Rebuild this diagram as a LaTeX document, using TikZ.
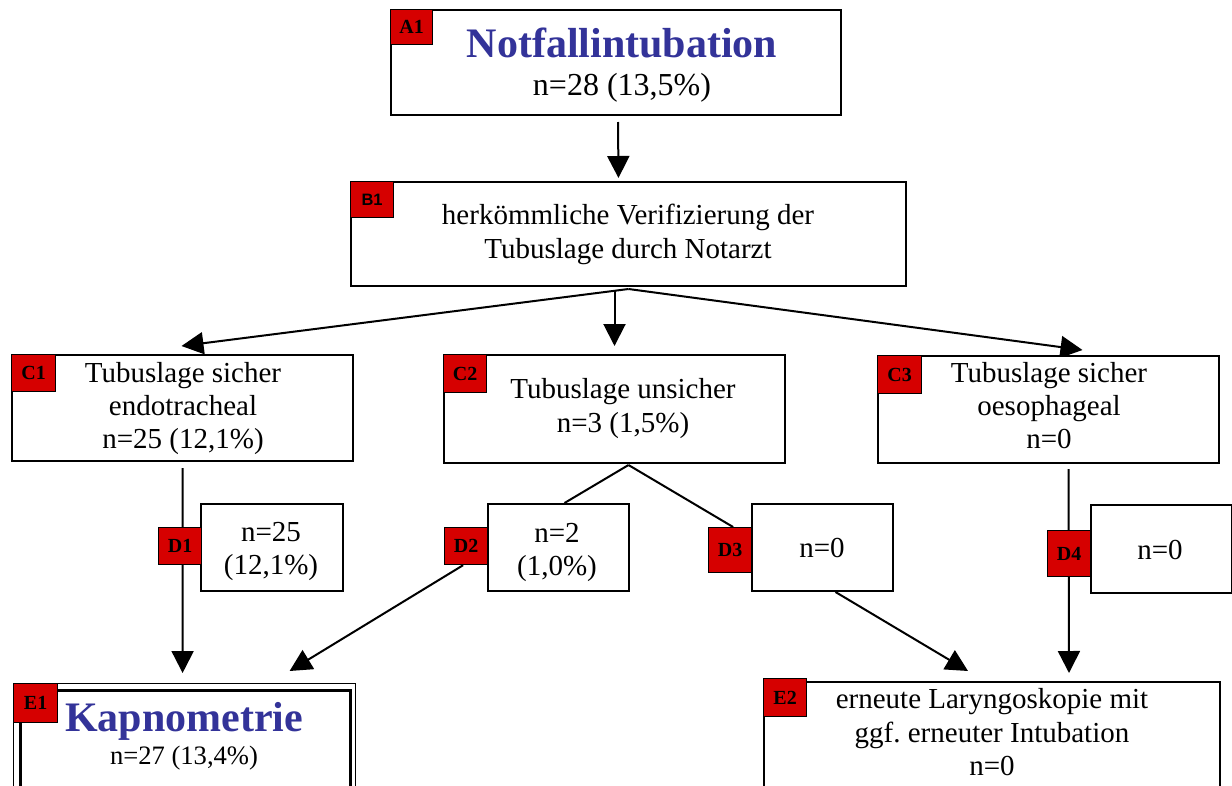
\documentclass[tikz,border=0pt]{standalone}
\usepackage{fontspec}
\setmainfont{Liberation Serif}
\newfontfamily\labsans{Liberation Sans}
\usetikzlibrary{arrows.meta,calc,backgrounds}
\definecolor{labred}{RGB}{214,0,0}
\definecolor{titleblue}{RGB}{51,51,153}
\frenchspacing
\tikzset{
  box/.style={draw, line width=2pt, fill=white, anchor=north west, inner sep=0pt},
  tag/.style={draw, line width=1.2pt, fill=labred, anchor=north west, inner sep=0pt,
              font=\fontsize{20}{20}\selectfont\bfseries},
  txt/.style={anchor=base, inner sep=0pt, font=\fontsize{29}{33}\selectfont},
  ttl/.style={anchor=base, inner sep=0pt, text=titleblue, font=\fontsize{42}{42}\selectfont\bfseries},
  conn/.style={line width=2pt},
  arr/.style={line width=2pt, -{Triangle[length=22pt,width=22pt]}},
}
\begin{document}
\begin{tikzpicture}[x=1pt,y=-1pt]
\path[use as bounding box] (0,0) rectangle (1232,785);
\clip (0,0) rectangle (1232,785);

% A1
\node[box, minimum width=450pt, minimum height=105pt] (A1) at (390,9) {};
\node[tag, minimum width=42pt, minimum height=35pt] (A1tag) at (390,9) {A1};
\node[ttl] (A1t1) at (622,57) {Notfallintubation};
\node[txt, font=\fontsize{32}{32}\selectfont] (A1t2) at (622,95) {n=28 (13,5\%)};

% B1
\node[box, minimum width=555pt, minimum height=104pt] (B1) at (350,181) {};
\node[tag, minimum width=43pt, minimum height=36pt, font=\labsans\fontsize{16.5}{16.5}\selectfont\bfseries] (B1tag) at (350,181) {B1};
\node[txt] (B1t1) at (628,224) {herkömmliche Verifizierung der};
\node[txt] (B1t2) at (628,258) {Tubuslage durch Notarzt};

% C row
\node[box, minimum width=341pt, minimum height=106pt] (C1) at (11,354) {};
\node[tag, minimum width=44pt, minimum height=37pt] (C1tag) at (11,354) {C1};
\node[txt] (C1t1) at (183,382) {Tubuslage sicher};
\node[txt] (C1t2) at (183,415) {endotracheal};
\node[txt] (C1t3) at (183,448) {n=25 (12,1\%)};

\node[box, minimum width=341pt, minimum height=108pt] (C2) at (443,354) {};
\node[tag, minimum width=43pt, minimum height=38pt] (C2tag) at (443,354) {C2};
\node[txt] (C2t1) at (623,398) {Tubuslage unsicher};
\node[txt] (C2t2) at (623,432) {n=3 (1,5\%)};

\node[box, minimum width=341pt, minimum height=107pt] (C3) at (877,355) {};
\node[tag, minimum width=44pt, minimum height=38pt] (C3tag) at (877,355) {C3};
\node[txt] (C3t1) at (1049,382) {Tubuslage sicher};
\node[txt] (C3t2) at (1049,415) {oesophageal};
\node[txt] (C3t3) at (1049,448) {n=0};

% D row
\node[box, minimum width=142pt, minimum height=87pt] (D1) at (200,503) {};
\node[tag, minimum width=43pt, minimum height=37pt] (D1tag) at (158,527) {D1};
\node[txt] (D1t1) at (271,541) {n=25};
\node[txt] (D1t2) at (271,574) {(12,1\%)};

\node[box, minimum width=141pt, minimum height=87pt] (D2) at (487,503) {};
\node[tag, minimum width=43pt, minimum height=37pt] (D2tag) at (444,527) {D2};
\node[txt] (D2t1) at (557,542) {n=2};
\node[txt] (D2t2) at (557,575) {(1,0\%)};

\node[box, minimum width=141pt, minimum height=87pt] (D3) at (751,503) {};
\node[tag, minimum width=43pt, minimum height=45pt] (D3tag) at (708,527) {D3};
\node[txt] (D3t1) at (822,557) {n=0};

\node[box, minimum width=141pt, minimum height=88pt] (D4) at (1090,504) {};
\node[tag, minimum width=43pt, minimum height=46pt] (D4tag) at (1047,530) {D4};
\node[txt] (D4t1) at (1160,559) {n=0};

% E row
\node[box, line width=1.2pt, minimum width=342pt, minimum height=130pt] (E1o) at (13,683) {};
\node[box, line width=2.6pt, minimum width=330pt, minimum height=120pt] (E1) at (19,689) {};
\node[tag, minimum width=44pt, minimum height=39pt] (E1tag) at (13,683) {E1};
\node[ttl] (E1t1) at (184,731) {Kapnometrie};
\node[txt, font=\fontsize{26.6}{26.6}\selectfont] (E1t2) at (184,764) {n=27 (13,4\%)};

\node[box, minimum width=456pt, minimum height=130pt] (E2) at (763,681) {};
\node[tag, minimum width=43pt, minimum height=38pt] (E2tag) at (763,678) {E2};
\node[txt] (E2t1) at (992,708) {erneute Laryngoskopie mit};
\node[txt] (E2t2) at (992,742) {ggf. erneuter Intubation};
\node[txt] (E2t3) at (992,775) {n=0};

% connectors
\begin{scope}[on background layer]
\fill[white] (0,0) rectangle (1232,785);
\draw[arr] ($(A1.south)+(2,6)$) -- ($(B1.north)+(-10,-3)$);
\coordinate (fan) at ($(B1.south)+(0,2)$);
\draw[arr] (fan) -- ($(C1.north)+(-1,-8)$);
\draw[arr] (fan) -- ($(C3.north)+(34,-5)$);
\draw[arr] ($(C2.north)+(0,-64)$) -- ($(C2.north)+(0,-8)$);

\draw[arr] ($(C1.south)+(0,6)$) -- ($(E1o.north)+(-2,-10)$);

\coordinate (c2s) at ($(C2.south)+(14,1)$);
\draw[conn] (c2s) -- ($(D2.north)+(6,0)$);
\draw[conn] (c2s) -- ($(D3tag.north)+(3,0)$);
\draw[arr] ($(D2tag.south)+(-3,0)$) -- ($(E1o.north)+(105,-12)$);
\draw[arr] ($(D3.south)+(13,0)$) -- ($(E2.north)+(-24,-10)$);
\draw[arr] ($(C3.south)+(20,5)$) -- ($(E2.north)+(77,-8)$);
\end{scope}
\end{tikzpicture}
\end{document}
